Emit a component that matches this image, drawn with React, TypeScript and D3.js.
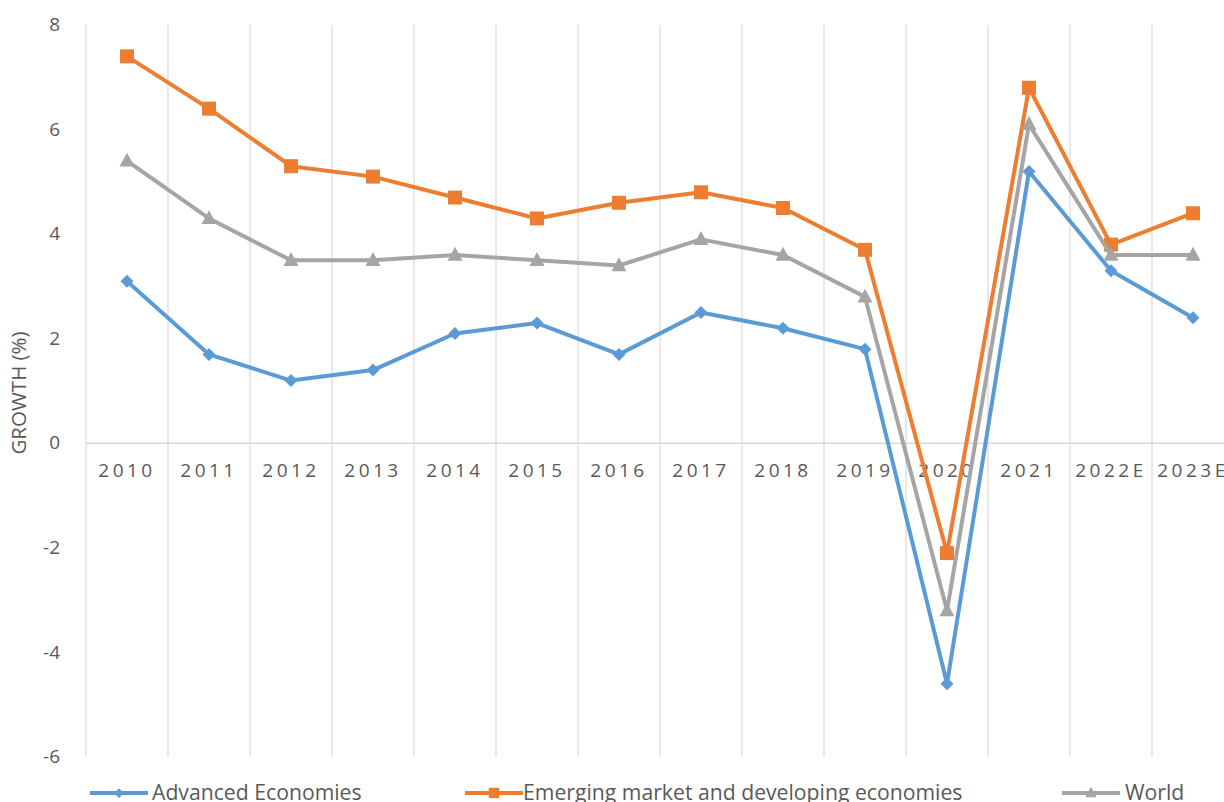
import React from "react";
import * as d3 from "d3";

const categories = ["2010","2011","2012","2013","2014","2015","2016","2017","2018","2019","2020","2021","2022E","2023E"];
const advanced = [3.1,1.7,1.2,1.4,2.1,2.3,1.7,2.5,2.2,1.8,-4.6,5.2,3.3,2.4];
const emerging = [7.4,6.4,5.3,5.1,4.7,4.3,4.6,4.8,4.5,3.7,-2.1,6.8,3.8,4.4];
const world = [5.4,4.3,3.5,3.5,3.6,3.5,3.4,3.9,3.6,2.8,-3.2,6.1,3.6,3.6];
const yTicks = [8,6,4,2,0,-2,-4,-6];

const W = 1224, H = 802;
const FONT = "'Open Sans', 'Noto Sans', sans-serif";
const TXT = "#595959";

const series = [
  { name: "Advanced Economies", values: advanced, color: "#5B9BD5", marker: "diamond" },
  { name: "Emerging market and developing economies", values: emerging, color: "#ED7D31", marker: "square" },
  { name: "World", values: world, color: "#A5A5A5", marker: "triangle" },
];

function markerPath(kind: string, x: number, y: number, s: number) {
  if (kind === "diamond") {
    return `M${x},${y - s}L${x + s},${y}L${x},${y + s}L${x - s},${y}Z`;
  }
  if (kind === "square") {
    return `M${x - s},${y - s}H${x + s}V${y + s}H${x - s}Z`;
  }
  return `M${x},${y - s * 1.1}L${x + s},${y + s * 0.75}L${x - s},${y + s * 0.75}Z`;
}

const markerSize: Record<string, number> = { diamond: 6.5, square: 7, triangle: 7.5 };

export default function App() {
  const x0 = 86, step = 82;
  const x = d3.scaleBand<string>().domain(categories).range([x0, x0 + step * categories.length]).paddingInner(0).paddingOuter(0);
  const y = d3.scaleLinear().domain([-6, 8]).range([757, 25]);
  const cx = (c: string) => (x(c) as number) + x.bandwidth() / 2;

  const line = d3.line<number>()
    .x((_, i) => cx(categories[i]))
    .y((d) => y(d))
    .curve(d3.curveLinear);

  const legend = [
    { s: series[0], lx: 90, tx: 152 },
    { s: series[1], lx: 465, tx: 523 },
    { s: series[2], lx: 1062, tx: 1125 },
  ];

  return (
    <svg width={W} height={H} style={{ position: "absolute", left: 0, top: 0, background: "#fff" }} fontFamily={FONT}>
      <rect width={W} height={H} fill="#fff" />
      {categories.map((c) => (
        <line key={c} x1={x(c) as number} x2={x(c) as number} y1={y(8)} y2={y(-6)} stroke="#D9D9D9" strokeWidth={1.2} />
      ))}
      <line x1={x0 + step * categories.length} x2={x0 + step * categories.length} y1={y(8)} y2={y(-6)} stroke="#D9D9D9" strokeWidth={1.2} />
      <line x1={x0} x2={W} y1={y(0)} y2={y(0)} stroke="#D9D9D9" strokeWidth={1.5} />
      {yTicks.map((t) => (
        <text key={t} x={60} y={y(t) + 1} textAnchor="end" dominantBaseline="middle" fontSize={19} fill={TXT}>{t}</text>
      ))}
      <text transform={`translate(21,${393}) rotate(-90)`} textAnchor="middle" dominantBaseline="middle" fontSize={20.5} fill={TXT}>GROWTH (%)</text>
      {categories.map((c) => (
        <text key={c} x={cx(c)} y={y(0) + 34} textAnchor="middle" fontSize={19} letterSpacing={3.5} fill={TXT}>{c}</text>
      ))}
      {series.map((s) => (
        <g key={s.name}>
          <path d={line(s.values) || ""} fill="none" stroke={s.color} strokeWidth={4} strokeLinejoin="round" />
          {s.values.map((v, i) => (
            <path key={i} d={markerPath(s.marker, cx(categories[i]), y(v), markerSize[s.marker])} fill={s.color} />
          ))}
        </g>
      ))}
      {legend.map(({ s, lx, tx }) => (
        <g key={s.name}>
          <line x1={lx} x2={lx + 58} y1={793} y2={793} stroke={s.color} strokeWidth={4} />
          <path d={markerPath(s.marker, lx + 29, 793, markerSize[s.marker] * 0.75)} fill={s.color} />
          <text x={tx} y={800} fontSize={21.2} fill={TXT}>{s.name}</text>
        </g>
      ))}
    </svg>
  );
}
